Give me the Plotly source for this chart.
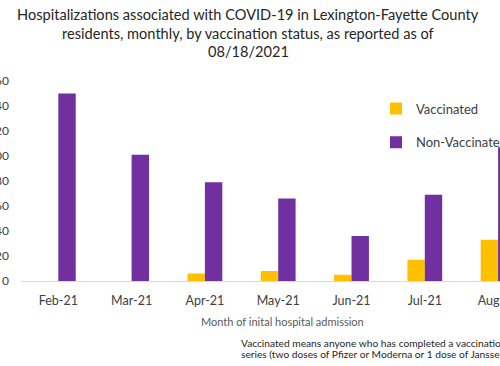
import plotly.graph_objects as go

months = ["Feb-21", "Mar-21", "Apr-21", "May-21", "Jun-21", "Jul-21", "Aug-21"]
vaccinated = [0, 0, 6, 8, 5, 17, 33]
non_vaccinated = [150, 101, 79, 66, 36, 69, 107]
y_ticks = [0, 20, 40, 60, 80, 100, 120, 140, 160]
title_lines = ["Hospitalizations associated with COVID-19 in Lexington-Fayette County",
               "residents, monthly, by vaccination status, as reported as of",
               "08/18/2021"]
note_lines = ["Vaccinated means anyone who has completed a vaccination",
              "series (two doses of Pfizer or Moderna or 1 dose of Janssen)"]
x_title = "Month of inital hospital admission"

FONT = "Lato"
W, H = 500, 366
L, R, T, B = 21, 0, 81, 85
PW, PH = W - L - R, H - T - B


def px_x(x):
    return (x - L) / PW


def px_y(y):
    return 1 - (y - T) / PH


fig = go.Figure()
fig.add_trace(go.Bar(x=months, y=vaccinated, name="Vaccinated",
                     marker=dict(color="#FFC000", line=dict(width=0)),
                     legendgroup="v"))
fig.add_trace(go.Bar(x=months, y=non_vaccinated, name="Non-Vaccinated",
                     marker=dict(color="#7030A0", line=dict(width=0)),
                     legendgroup="n"))

annotations = []
for i, (line, yc) in enumerate(zip(title_lines, [15, 33, 51])):
    annotations.append(dict(text=line, x=px_x(248), xref="paper", y=px_y(yc), yref="paper",
                            xanchor="center", yanchor="middle", showarrow=False,
                            font=dict(family=FONT, size=14.6, color="#262626")))
annotations.append(dict(text=x_title, x=px_x(282), xref="paper", y=px_y(321), yref="paper",
                        xanchor="center", yanchor="middle", showarrow=False,
                        font=dict(family=FONT, size=11, color="#595959")))
for line, yc in zip(note_lines, [343.0, 353.5]):
    annotations.append(dict(text=line, x=px_x(239), xref="paper", y=px_y(yc), yref="paper",
                            xanchor="left", yanchor="middle", showarrow=False,
                            font=dict(family=FONT, size=10.2, color="#262626")))

fig.update_layout(
    width=W, height=H,
    margin=dict(l=L, r=R, t=T, b=B, pad=0, autoexpand=False),
    paper_bgcolor="white", plot_bgcolor="white",
    barmode="group", bargap=0.525, bargroupgap=0,
    font=dict(family=FONT, color="#595959"),
    legend=dict(
        x=px_x(376), xanchor="left",
        y=px_y(93.5), yanchor="top",
        font=dict(family=FONT, size=13, color="#404040"),
        tracegroupgap=14, traceorder="grouped",
        bgcolor="rgba(0,0,0,0)",
    ),
    xaxis=dict(
        type="category", range=[-0.509, 6.026], automargin=False,
        showgrid=False, showline=True, linecolor="#d9d9d9", linewidth=1,
        ticks="", tickfont=dict(family=FONT, size=12.5, color="#404040"),
        ticklabelstandoff=8, zeroline=False,
    ),
    yaxis=dict(
        range=[0, 160], tickvals=y_ticks, automargin=False, showgrid=False, showline=False,
        zeroline=False, ticks="", tickfont=dict(family=FONT, size=12, color="#404040"),
        ticklabelstandoff=11,
    ),
    annotations=annotations,
)

fig.write_html("out.html",
               config={"displayModeBar": False},
               post_script="document.body.style.margin='0';document.body.style.overflow='hidden';")
